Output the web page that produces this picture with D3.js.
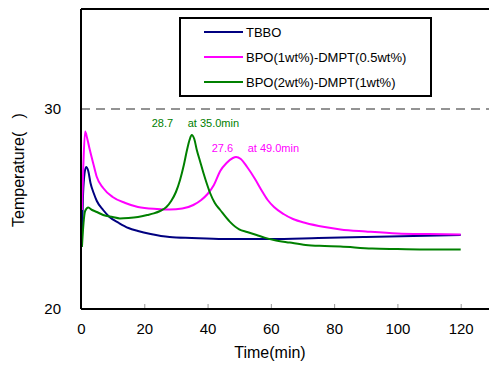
<!DOCTYPE html>
<html>
<head>
<meta charset="utf-8">
<script src="https://cdn.jsdelivr.net/npm/d3@7"></script>
<style>
body { margin: 0; background: #fff; }
svg { display: block; font-family: "Liberation Sans", Arial, sans-serif; }
</style>
</head>
<body>
<svg width="489" height="365"></svg>
<script>
// readings taken off the curves
const tbboTime = [0.3, 0.6, 1.0, 1.6, 2.3, 3, 4, 5, 7, 9, 12, 15, 18, 22, 28, 35, 45, 60, 75, 90, 105, 120]
const tbboTemp = [23.6, 25.5, 26.6, 27.1, 26.9, 26.3, 25.8, 25.4, 24.95, 24.6, 24.3, 24.05, 23.9, 23.75, 23.6, 23.55, 23.5, 23.5, 23.55, 23.6, 23.65, 23.7]

const bpo1Time = [0.3, 0.7, 1.3, 2, 2.8, 4, 5, 7, 10, 14, 18, 24, 28, 32, 35.5, 38, 40, 42, 44, 46, 48, 49, 50.5, 52.5, 55, 57, 59, 61, 64, 67, 71, 77, 82, 90, 100, 110, 120]
const bpo1Temp = [24.95, 27.0, 28.87, 28.5, 27.95, 27.2, 26.6, 26.05, 25.6, 25.3, 25.1, 25.0, 24.97, 25.02, 25.2, 25.45, 25.75, 26.2, 26.9, 27.3, 27.55, 27.6, 27.5, 27.1, 26.5, 25.95, 25.45, 25.1, 24.75, 24.5, 24.3, 24.1, 23.98, 23.88, 23.78, 23.75, 23.73]

const bpo2Time = [0.3, 0.8, 1.3, 2.3, 3.5, 5, 7, 10, 12.3, 15, 18, 21, 23, 25, 27, 28.5, 30, 31.3, 32.5, 33.5, 34.3, 35, 35.8, 36.6, 37.6, 38.7, 39.8, 40.8, 42.3, 44, 47, 50, 52.5, 55.5, 58, 61, 66, 71, 77, 82, 92, 100, 110, 120]
const bpo2Temp = [23.1, 24.3, 24.9, 25.07, 24.95, 24.85, 24.7, 24.6, 24.53, 24.55, 24.6, 24.7, 24.78, 24.9, 25.1, 25.4, 25.85, 26.45, 27.2, 27.95, 28.45, 28.7, 28.5, 27.95, 27.4, 26.8, 26.25, 25.8, 25.3, 24.95, 24.37, 23.98, 23.85, 23.7, 23.57, 23.45, 23.32, 23.2, 23.15, 23.12, 23.02, 23.0, 22.98, 22.98]

const seriesNames = ["TBBO", "BPO(1wt%)-DMPT(0.5wt%)", "BPO(2wt%)-DMPT(1wt%)"]
const seriesColors = ["#000080", "#ff00ff", "#008000"]
const xTicks = [0, 20, 40, 60, 80, 100, 120]
const yTicks = [20, 30]
const limitTemp = 30
const peakTimes = [35.0, 49.0]
const peakTemps = [28.7, 27.6]
const peakColors = ["#008000", "#ff00ff"]

const svg = d3.select("svg")
const x = d3.scaleLinear().domain([0, 120]).range([81, 460.7])
const y = d3.scaleLinear().domain([20, 35]).range([309, 9])
const xEnd = 489

// dashed limit line
svg.append("line")
	.attr("x1", x(0)).attr("x2", xEnd)
	.attr("y1", y(limitTemp)).attr("y2", y(limitTemp))
	.attr("stroke", "#707070")
	.attr("stroke-width", 1.6)
	.attr("stroke-dasharray", "9,6")

// curves
const line = d3.line().x(d => x(d[0])).y(d => y(d[1])).curve(d3.curveMonotoneX)
const series = [
	d3.zip(tbboTime, tbboTemp),
	d3.zip(bpo1Time, bpo1Temp),
	d3.zip(bpo2Time, bpo2Temp),
]
series.forEach((s, i) => {
	svg.append("path")
		.datum(s)
		.attr("fill", "none")
		.attr("stroke", seriesColors[i])
		.attr("stroke-width", 2)
		.attr("stroke-linejoin", "round")
		.attr("d", line)
})

// peak labels (offsets from the peak point, in px)
const labelShift = [{ dx: -40, dy: -8.3 }, { dx: -24.3, dy: -5.3 }]
peakTimes.forEach((t, i) => {
	const px = x(t) + labelShift[i].dx
	const py = y(peakTemps[i]) + labelShift[i].dy
	const g = svg.append("g").attr("fill", peakColors[i]).style("font-size", "11px")
	g.append("text").attr("x", px).attr("y", py).text(peakTemps[i].toFixed(1))
	g.append("text").attr("x", px + 36).attr("y", py).text("at " + t.toFixed(1) + "min")
})

// axes
const xAxis = svg.append("g")
	.attr("transform", "translate(0," + y(20) + ")")
	.call(d3.axisBottom(x).tickValues(xTicks).tickSize(0).tickPadding(14))
xAxis.select(".domain").remove()
xAxis.selectAll("text").style("font-size", "15px").attr("fill", "#000")
xAxis.selectAll(".tick").append("line")
	.attr("y1", 0).attr("y2", -5)
	.attr("stroke", "#999")

const yAxis = svg.append("g")
	.attr("transform", "translate(" + x(0) + ",0)")
	.call(d3.axisLeft(y).tickValues(yTicks).tickSize(0).tickPadding(20))
yAxis.select(".domain").remove()
yAxis.selectAll("text").style("font-size", "15px").attr("fill", "#000")

// frame lines
svg.append("line")
	.attr("x1", x(0)).attr("x2", xEnd)
	.attr("y1", y(20)).attr("y2", y(20))
	.attr("stroke", "#000").attr("stroke-width", 2)
svg.append("line")
	.attr("x1", x(0)).attr("x2", x(0))
	.attr("y1", y(35)).attr("y2", y(20))
	.attr("stroke", "#000").attr("stroke-width", 2)
svg.append("line")
	.attr("x1", x(0)).attr("x2", xEnd)
	.attr("y1", y(35)).attr("y2", y(35))
	.attr("stroke", "#000").attr("stroke-width", 2)

// axis titles
svg.append("text")
	.attr("x", 270).attr("y", 358)
	.attr("text-anchor", "middle")
	.style("font-size", "16px")
	.text("Time(min)")
svg.append("text")
	.attr("transform", "translate(24,170) rotate(-90)")
	.attr("text-anchor", "middle")
	.style("font-size", "16px")
	.text("Temperature(\u00a0\u00a0\u00a0)")

// legend
const legend = svg.append("g")
legend.append("rect")
	.attr("x", 180).attr("y", 18)
	.attr("width", 251).attr("height", 78)
	.attr("fill", "#fff").attr("stroke", "#000").attr("stroke-width", 2)
seriesNames.forEach((name, i) => {
	const ly = 32 + i * 25
	legend.append("line")
		.attr("x1", 204).attr("x2", 243)
		.attr("y1", ly).attr("y2", ly)
		.attr("stroke", seriesColors[i]).attr("stroke-width", 2)
	legend.append("text")
		.attr("x", 246).attr("y", ly + 5)
		.style("font-size", "13px")
		.text(name)
})
</script>
</body>
</html>
